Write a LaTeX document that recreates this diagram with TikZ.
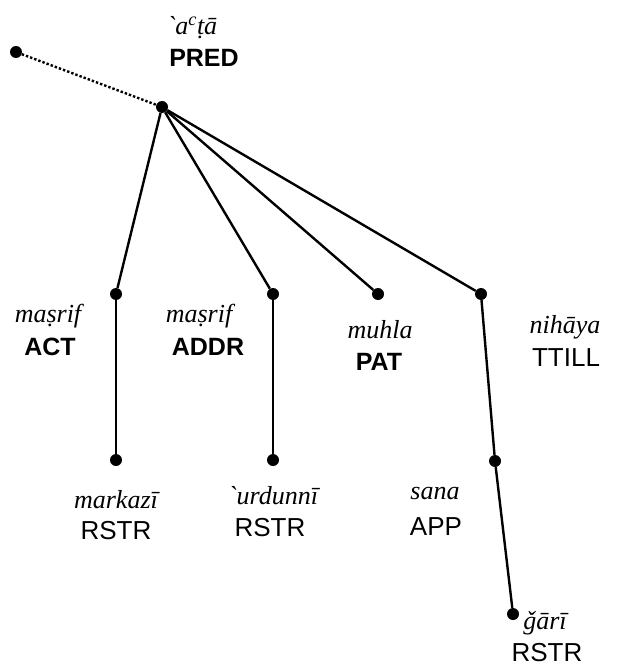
\documentclass[tikz,border=0pt]{standalone}
\usepackage{fontspec}
\setmainfont{Liberation Sans}
\newfontfamily\itf{Liberation Serif}
\begin{document}
\begin{tikzpicture}[x=1pt,y=-1pt,
  dot/.style={circle,fill=black,inner sep=0pt,minimum size=12pt},
  edge/.style={line width=2.4pt},
  wd/.style={font=\itf\itshape\fontsize{26}{28}\selectfont,inner sep=0pt},
  fn/.style={font=\fontsize{26}{28}\selectfont,inner sep=0pt},
  fnb/.style={font=\bfseries\fontsize{25}{28}\selectfont,inner sep=0pt}]
\useasboundingbox (0,0) rectangle (617,668);
\node[dot] (top) at (16,52) {};
\node[dot] (root) at (162,107) {};
\node[dot] (act) at (116,294) {};
\node[dot] (actc) at (116,460) {};
\node[dot] (addr) at (273,294) {};
\node[dot] (addrc) at (273,460) {};
\node[dot] (pat) at (378,294) {};
\node[dot] (till) at (481,294) {};
\node[dot] (app) at (495,461) {};
\node[dot] (gari) at (513,614) {};
\draw[line width=2.4pt,dotted] (top) -- (root);
\draw[edge] (root) -- (act);
\draw[edge] (root) -- (addr);
\draw[edge] (root) -- (pat);
\draw[edge] (root) -- (till);
\draw[edge] (act) -- (actc);
\draw[edge] (addr) -- (addrc);
\draw[edge] (till) -- (app);
\draw[edge] (app) -- (gari);
\node[wd] (w1) at (192,28) {\symbol{"60}a\textsuperscript{c}ṭā};
\node[fnb] (l1) at (204,58) {PRED};
\node[wd] (w2) at (48,316) {maṣrif};
\node[fnb] (l2) at (50,347) {ACT};
\node[wd] (w3) at (199,316) {maṣrif};
\node[fnb] (l3) at (208,347) {ADDR};
\node[wd] (w4) at (380,330) {muhla};
\node[fnb] (l4) at (379,362) {PAT};
\node[wd] (w5) at (565,327) {nihāya};
\node[fn] (l5) at (566,358) {TTILL};
\node[wd] (w6) at (116,500) {markazī};
\node[fn] (l6) at (116,531) {RSTR};
\node[wd] (w7) at (273,496) {\symbol{"60}urdunnī};
\node[fn] (l7) at (270,528) {RSTR};
\node[wd] (w8) at (435,494) {sana};
\node[fn] (l8) at (436,527) {APP};
\node[wd] (w9) at (545,623) {ǧārī};
\node[fn] (l9) at (547,653) {RSTR};
\end{tikzpicture}
\end{document}
